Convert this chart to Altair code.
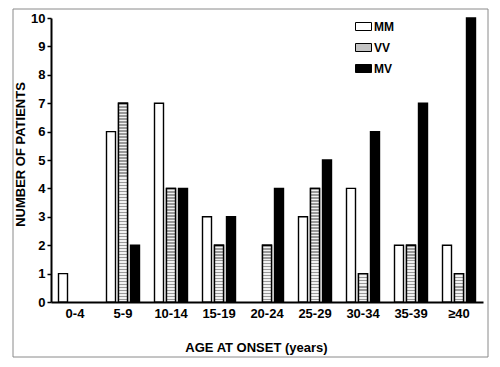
import altair as alt
import pandas as pd

categories = ["0-4", "5-9", "10-14", "15-19", "20-24", "25-29", "30-34", "35-39", "\u226540"]
genotypes = ["MM", "VV", "MV"]
mm = [1, 6, 7, 3, 0, 3, 4, 2, 2]
vv = [0, 7, 4, 2, 2, 4, 1, 2, 1]
mv = [0, 2, 4, 3, 4, 5, 6, 7, 10]

rows = []
for i, c in enumerate(categories):
    for g, series in zip(genotypes, [mm, vv, mv]):
        rows.append({"age": c, "genotype": g, "count": series[i]})
df = pd.DataFrame(rows)

W, H = 432, 284
FONT = "Liberation Sans"

common_axis = dict(labelFont=FONT, labelFontWeight="bold", labelFontSize=13, labelColor="black",
                   titleFont=FONT, titleFontWeight="bold", titleFontSize=13, titleColor="black",
                   domainColor="black", domainWidth=2, tickColor="black", tickWidth=1.5)

x_enc = alt.X("age:N", sort=categories,
              scale=alt.Scale(domain=categories, paddingInner=0.25, paddingOuter=0.125),
              axis=alt.Axis(title="AGE AT ONSET (years)", labelAngle=0, ticks=False,
                            labelPadding=5, titleX=205, titleY=45, titleBaseline="middle",
                            **common_axis))
xo_enc = alt.XOffset("genotype:N", sort=genotypes,
                     scale=alt.Scale(domain=genotypes, paddingInner=0.25, paddingOuter=0.125))
y_enc = alt.Y("count:Q", scale=alt.Scale(domain=[0, 10], nice=False),
              axis=alt.Axis(title="NUMBER OF PATIENTS", values=list(range(11)), tickSize=4,
                            grid=False, titlePadding=3, labelPadding=2, titleY=136,
                            **common_axis))

bars = alt.Chart(df).transform_filter("datum.count > 0").mark_bar(
    stroke="black", strokeWidth=1.4
).encode(
    x=x_enc, xOffset=xo_enc, y=y_enc,
    fill=alt.Fill("genotype:N", sort=genotypes,
                  scale=alt.Scale(domain=genotypes, range=["white", "#c4c4c4", "black"]),
                  legend=alt.Legend(title=None, orient="none", legendX=304, legendY=0,
                                    symbolType="M-1,-0.5H1V0.5H-1Z", symbolSize=256,
                                    symbolStrokeColor="black", symbolStrokeWidth=1,
                                    rowPadding=6, labelFont=FONT, labelFontWeight="bold",
                                    labelFontSize=12, labelOffset=2)),
)

layers = [bars]
px_per_unit = H / 10
for v in sorted(set(x for x in vv if x > 0)):
    h = v * px_per_unit
    n = max(1, round(h / 3.0))
    stops = []
    for k in range(n):
        stops.append(alt.GradientStop(offset=k / n, color="#9a9a9a"))
        stops.append(alt.GradientStop(offset=(k + 0.45) / n, color="#9a9a9a"))
        stops.append(alt.GradientStop(offset=(k + 0.45) / n, color="#f2f2f2"))
        stops.append(alt.GradientStop(offset=(k + 1) / n, color="#f2f2f2"))
    grad = alt.LinearGradient(gradient="linear", stops=stops, x1=0, x2=0, y1=0, y2=1)
    layer = alt.Chart(df).transform_filter(
        f"datum.genotype == 'VV' && datum.count == {v}"
    ).mark_bar(stroke="black", strokeWidth=1.4).encode(
        x=x_enc, xOffset=xo_enc, y=y_enc, fill=alt.value(grad)
    )
    layers.append(layer)

frame = alt.Chart(alt.Data(values=[{}])).mark_rect(
    fillOpacity=0, stroke="#8a8a8a", strokeWidth=1
).encode(x=alt.value(-38), x2=alt.value(437), y=alt.value(-9), y2=alt.value(339))
layers.append(frame)

chart = alt.layer(*layers).properties(
    width=W, height=H, padding={"left": 4, "top": 0, "right": 0, "bottom": 0}
).configure_view(stroke=None)

chart.save("out.html", embed_options={"renderer": "svg", "actions": False})
